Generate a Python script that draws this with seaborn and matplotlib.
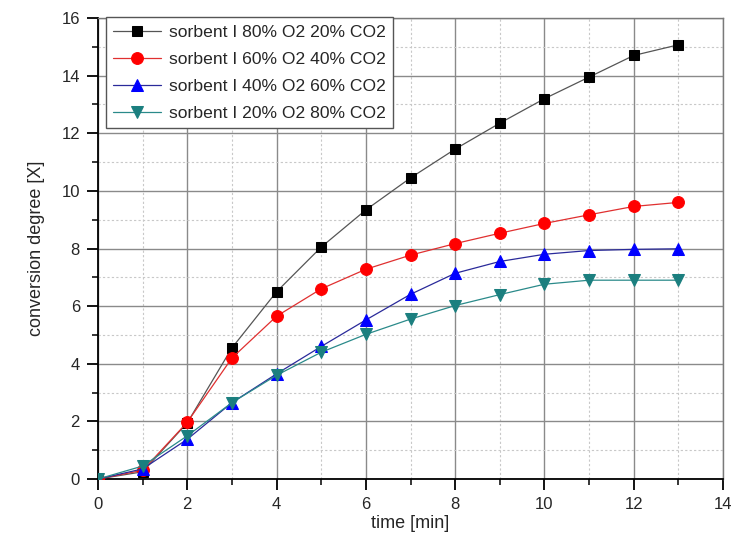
import matplotlib
matplotlib.use("Agg")
import matplotlib.pyplot as plt
from matplotlib.ticker import MultipleLocator
import numpy as np
import pandas as pd
import seaborn as sns

# Conversion degree of sorbent I at different O2/CO2 mixtures
time_min = [0, 1, 2, 3, 4, 5, 6, 7, 8, 9, 10, 11, 12, 13]
x_80_20 = [0.0, 0.25, 1.95, 4.55, 6.5, 8.05, 9.34, 10.45, 11.45, 12.35, 13.2, 13.95, 14.7, 15.07]
x_60_40 = [0.0, 0.3, 1.97, 4.2, 5.65, 6.6, 7.28, 7.77, 8.17, 8.53, 8.87, 9.17, 9.46, 9.6]
x_40_60 = [0.0, 0.35, 1.38, 2.65, 3.65, 4.6, 5.52, 6.41, 7.14, 7.55, 7.8, 7.93, 7.97, 7.99]
x_20_80 = [0.0, 0.45, 1.5, 2.65, 3.6, 4.4, 5.02, 5.55, 6.02, 6.4, 6.76, 6.9, 6.9, 6.9]

labels = [
    "sorbent I 80% O2 20% CO2",
    "sorbent I 60% O2 40% CO2",
    "sorbent I 40% O2 60% CO2",
    "sorbent I 20% O2 80% CO2",
]
series = [x_80_20, x_60_40, x_40_60, x_20_80]
colors = ["#000000", "#ff0000", "#0000ff", "#1b7f7f"]
line_colors = ["#555555", "#e03030", "#2a2a9a", "#2a8a8a"]
markers = ["s", "o", "^", "v"]
msizes = [7.5, 8.5, 8.5, 8.5]

df = pd.concat(
    [pd.DataFrame({"time": time_min, "X": vals, "series": lab}) for lab, vals in zip(labels, series)],
    ignore_index=True,
)

sns.set_theme(style="white")
plt.rcParams["font.family"] = ["Liberation Sans", "DejaVu Sans"]

fig = plt.figure(figsize=(7.33, 5.39), dpi=100)
ax = fig.add_axes([0.1337, 0.1113, 0.8527, 0.8553])

for lab, col, lcol, mk, ms in zip(labels, colors, line_colors, markers, msizes):
    sns.lineplot(
        data=df[df["series"] == lab], x="time", y="X", ax=ax,
        color=lcol, marker=mk, markersize=ms, markerfacecolor=col, markeredgecolor=col,
        linewidth=0.9, label=lab, zorder=3,
    )

ax.set_xlim(0, 14)
ax.set_ylim(0, 16)
ax.xaxis.set_major_locator(MultipleLocator(2))
ax.xaxis.set_minor_locator(MultipleLocator(1))
ax.yaxis.set_major_locator(MultipleLocator(2))
ax.yaxis.set_minor_locator(MultipleLocator(1))

ax.grid(which="major", color="#8a8a8a", linewidth=1.0, linestyle="-", zorder=0)
ax.grid(which="minor", color="#c8c8c8", linewidth=0.8, linestyle=(0, (2, 2)), zorder=0)
ax.set_axisbelow(True)

for side in ("left", "bottom"):
    ax.spines[side].set_color("black")
    ax.spines[side].set_linewidth(1.3)
for side in ("top", "right"):
    ax.spines[side].set_color("#7a7a7a")
    ax.spines[side].set_linewidth(1.0)

ax.tick_params(which="major", direction="out", length=8, width=1.3, color="black",
               labelsize=12, bottom=True, left=True, pad=5)
ax.tick_params(which="minor", direction="out", length=4.5, width=1.1, color="black",
               bottom=True, left=True)

ax.set_xlabel("time [min]", fontsize=13, labelpad=2)
ax.set_ylabel("conversion degree [X]", fontsize=13, labelpad=12)

leg = ax.legend(loc="upper left", bbox_to_anchor=(0.013, 1.002), fontsize=12.6,
                frameon=True, fancybox=False, edgecolor="#555555", framealpha=1,
                handlelength=2.7, borderpad=0.42, labelspacing=0.68, handletextpad=0.45,
                borderaxespad=0.0)
leg.get_frame().set_linewidth(1.0)

fig.savefig("out.png", dpi=100)
